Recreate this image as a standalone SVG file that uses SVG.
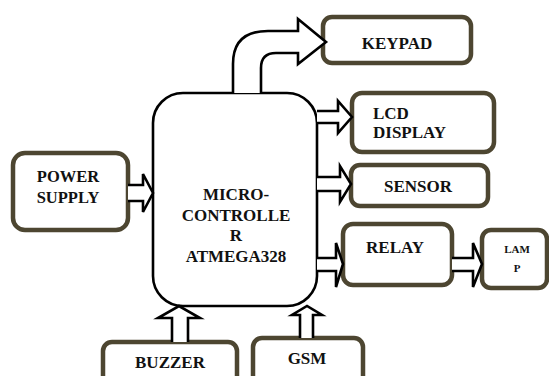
<svg xmlns="http://www.w3.org/2000/svg" width="549" height="376" viewBox="0 0 549 376">
<style>
.box{fill:#fff;stroke:#4d4631;stroke-width:4.5}
.mc{fill:#fff;stroke:#000;stroke-width:2.6}
.arr{fill:#fff;stroke:#000;stroke-width:2.6;stroke-linejoin:miter}
.t{font-family:'Liberation Serif','DejaVu Serif',serif;font-weight:bold;fill:#111;text-anchor:middle}
</style>
<rect width="549" height="376" fill="#fff"/>
<g id="mcu">
<rect class="mc" x="153" y="93" width="164" height="213" rx="30" ry="30"/>
<text class="t" x="236" y="200" font-size="17">MICRO-</text>
<text class="t" x="236" y="221" font-size="17">CONTROLLE</text>
<text class="t" x="236" y="241" font-size="17">R</text>
<text class="t" x="236" y="262" font-size="17">ATMEGA328</text>
</g>
<g id="keypad">
<rect class="box" x="323" y="17" width="148" height="46" rx="9"/>
<text class="t" x="397" y="49" font-size="17">KEYPAD</text>
</g>
<g id="lcd">
<rect class="box" x="352" y="93" width="142" height="59" rx="10"/>
<text class="t" x="373" y="119" font-size="17" style="text-anchor:start">LCD</text>
<text class="t" x="373" y="138" font-size="17" style="text-anchor:start">DISPLAY</text>
</g>
<g id="sensor">
<rect class="box" x="351" y="165" width="137" height="41" rx="9"/>
<text class="t" x="418" y="192" font-size="17">SENSOR</text>
</g>
<g id="relay">
<rect class="box" x="343" y="224" width="109" height="61" rx="10"/>
<text class="t" x="395" y="253" font-size="17">RELAY</text>
</g>
<g id="lamp">
<rect class="box" x="482" y="230" width="65" height="58" rx="9"/>
<text class="t" x="517" y="253" font-size="11">LAM</text>
<text class="t" x="517" y="272" font-size="11">P</text>
</g>
<g id="power">
<rect class="box" x="13" y="153" width="115" height="77" rx="12"/>
<text class="t" x="68" y="182" font-size="16.5">POWER</text>
<text class="t" x="68" y="203" font-size="16.5">SUPPLY</text>
</g>
<g id="buzzer">
<rect class="box" x="103" y="342" width="134" height="45" rx="9"/>
<text class="t" x="170" y="368" font-size="17">BUZZER</text>
</g>
<g id="gsm">
<rect class="box" x="253" y="338" width="110" height="49" rx="9"/>
<text class="t" x="307" y="364" font-size="17">GSM</text>
</g>
<g id="connectors">
<path class="arr" d="M233,93 L233,64 Q233,31 268,31 L298,31 L298,19 L326,42 L298,64 L298,53 L276,53 Q261,53 261,68 L261,93"/>
<path class="arr" d="M317,111 L338,111 L338,101 L352,117 L338,133 L338,123 L317,123"/>
<path class="arr" d="M317,177 L340,177 L340,166 L351,184 L340,202 L340,191 L317,191"/>
<path class="arr" d="M317,258 L336,258 L336,243 L343,264 L336,287 L336,271 L317,271"/>
<path class="arr" d="M452,258 L473,258 L473,243 L482,264 L473,287 L473,271 L452,271"/>
<path class="arr" d="M128,185 L143,185 L143,174 L153,193 L143,212 L143,201 L128,201"/>
<path class="arr" d="M172,342 L172,318 L158,318 L179,306 L200,318 L188,318 L188,342"/>
<path class="arr" d="M300,338 L300,315 L292,315 L307,306 L322,315 L313,315 L313,338"/>
</g>
</svg>
